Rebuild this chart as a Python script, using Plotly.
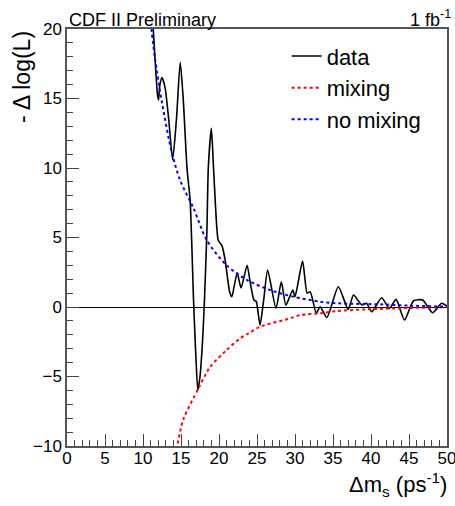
import plotly.graph_objects as go

# ---- data ----
data_dm = [10.9, 11.35, 11.9, 12.05, 12.2, 12.5, 12.9, 13.4, 13.9, 14.4, 14.9, 15.3, 15.8, 16.2,
           16.65, 16.95, 17.22, 17.5, 17.8, 18.05, 18.4, 18.6, 19.0, 19.27, 19.7, 19.9, 20.4, 20.8,
           21.4, 21.7, 22.0, 22.4, 22.9, 23.7, 24.1, 24.6, 24.9, 25.4, 25.9, 26.4, 27.5, 28.2, 28.8,
           29.7, 30.0, 31.0, 31.6, 32.0, 32.8, 33.3, 34.2, 35.7, 37.0, 37.7, 38.8, 39.4, 40.1, 41.4,
           42.4, 43.3, 44.4, 45.6, 46.8, 48.1, 49.3, 50.0]
data_val = [24.0, 20.0, 15.3, 14.9, 15.9, 16.5, 15.8, 13.4, 10.6, 13.5, 17.6, 14.9, 9.9, 7.7,
            0.5, -3.5, -6.0, -5.0, -2.8, 0.0, 5.3, 10.1, 12.85, 10.1, 5.8, 4.8, 4.4, 3.4,
            1.1, 0.74, 1.5, 2.45, 1.37, 3.0, 1.8, 0.5, 0.4, -1.3, 0.6, 2.66, -0.1, 1.82, 0.14,
            1.22, 0.74, 3.3, 1.0, 1.1, -0.45, 0.02, -0.75, 1.46, -0.17, 0.86, 0.14, 0.27, -0.34, 0.67,
            -0.1, 0.55, -0.94, 0.45, 0.5, -0.41, 0.27, 0.05]

nomix_dm = [10.5, 11.1, 11.6, 12.5, 13.8, 14.9, 16.65, 18.4, 21.0, 23.7, 26.7, 29.8, 33.3, 35.5, 41.2, 45.0, 50.0]
nomix_val = [23.0, 20.0, 17.8, 14.7, 11.1, 9.1, 7.1, 4.8, 3.0, 1.94, 1.22, 0.74, 0.38, 0.27, 0.19, 0.1, 0.02]

mix_dm = [14.0, 14.5, 15.3, 17.3, 18.85, 21.0, 22.8, 23.9, 25.4, 29.4, 30.7, 33.3, 35.5, 39.4, 45.0, 50.0]
mix_val = [-11.5, -10.0, -8.1, -5.85, -4.3, -3.1, -2.25, -1.9, -1.42, -0.81, -0.58, -0.45, -0.29, -0.17, -0.07, -0.02]

x_ticks = [0, 5, 10, 15, 20, 25, 30, 35, 40, 45, 50]
y_ticks = [-10, -5, 0, 5, 10, 15, 20]

FONT = "Liberation Sans, Arial, Helvetica, sans-serif"

fig = go.Figure()
fig.add_trace(go.Scatter(x=data_dm, y=data_val, mode="lines", name="data",
                         line=dict(color="black", width=1.6, shape="spline", smoothing=0.6)))
fig.add_trace(go.Scatter(x=mix_dm, y=mix_val, mode="lines", name="mixing",
                         line=dict(color="#ff0000", width=2, dash="3px,3px", shape="spline", smoothing=0.8)))
fig.add_trace(go.Scatter(x=nomix_dm, y=nomix_val, mode="lines", name="no mixing",
                         line=dict(color="#0000ff", width=2, dash="3px,3px", shape="spline", smoothing=0.8)))

axis_common = dict(showgrid=False, showline=True, mirror=True, linecolor="#555555", linewidth=1.5,
                   ticks="inside", ticklen=12, tickwidth=1, tickcolor="#444444", automargin=False,
                   ticklabeloverflow="allow",
                   tickfont=dict(family=FONT, size=17, color="black"))

fig.update_xaxes(range=[0, 50], tickvals=x_ticks, zeroline=False, ticklabelstandoff=-4,
                 minor=dict(ticks="inside", ticklen=6, dtick=1, tickcolor="#444444", tickwidth=1),
                 **axis_common)
fig.update_yaxes(range=[-10, 20], tickvals=y_ticks, zeroline=True, zerolinecolor="black",
                 zerolinewidth=1,
                 minor=dict(ticks="inside", ticklen=6, dtick=1, tickcolor="#444444", tickwidth=1),
                 **axis_common)

fig.update_layout(
    width=455, height=506,
    margin=dict(l=67, r=8, t=29, b=60, autoexpand=False),
    paper_bgcolor="white", plot_bgcolor="white",
    font=dict(family=FONT, color="black"),
    showlegend=True,
    legend=dict(x=0.578, y=0.985, xanchor="left", yanchor="top", bgcolor="rgba(0,0,0,0)",
                font=dict(family=FONT, size=22), tracegroupgap=0, itemwidth=30),
    annotations=[
        dict(text="CDF II Preliminary", xref="paper", yref="paper", x=0, y=1, xanchor="left",
             yanchor="bottom", showarrow=False, font=dict(family=FONT, size=18), yshift=-3),
        dict(text="1 fb<sup>-1</sup>", xref="paper", yref="paper", x=1.015, y=1, xanchor="right",
             yanchor="bottom", showarrow=False, font=dict(family=FONT, size=18), yshift=-3),
        dict(text="Δm<sub>s</sub> (ps<sup>-1</sup>)", xref="paper", yref="paper", x=1.005, y=0,
             xanchor="right", yanchor="top", showarrow=False, font=dict(family=FONT, size=22),
             yshift=-21),
        dict(text="- Δ log(L)", xref="paper", yref="paper", x=0, y=1, xanchor="right",
             yanchor="top", textangle=-90, showarrow=False, font=dict(family=FONT, size=23),
             xshift=-30),
    ],
)

fig.write_html("out.html", config={"displayModeBar": False},
               post_script="document.body.style.margin='0';")
